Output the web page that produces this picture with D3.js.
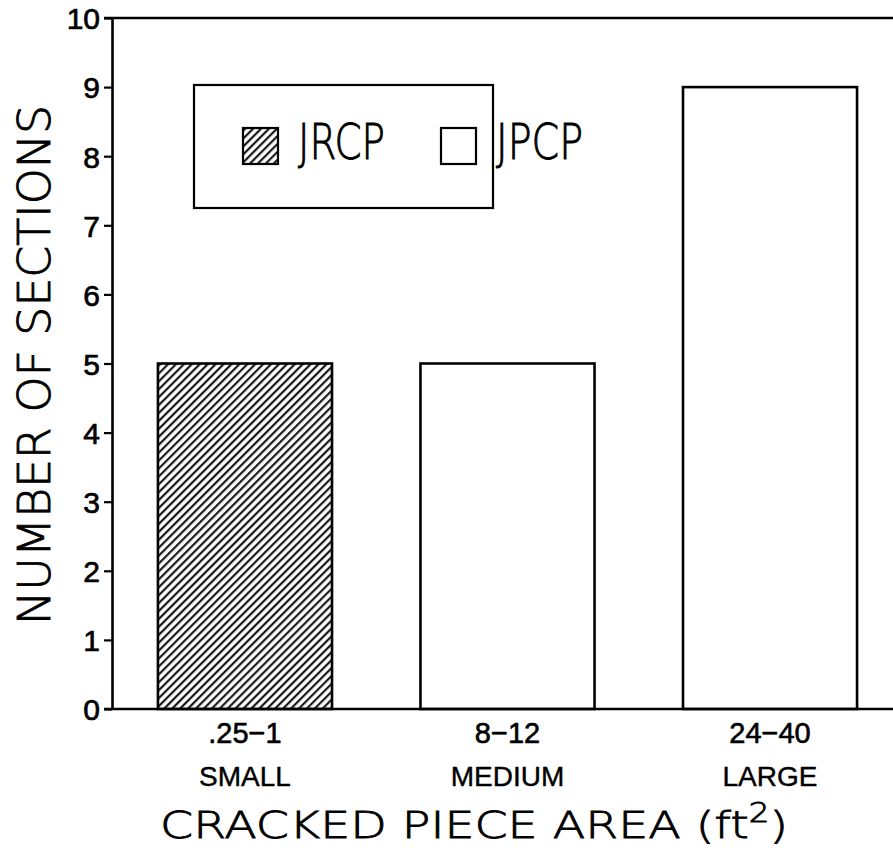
<!DOCTYPE html>
<html>
<head>
<meta charset="utf-8">
<script src="https://cdn.jsdelivr.net/npm/d3@7"></script>
<style>
  html, body { margin: 0; padding: 0; background: #fff; }
  svg { display: block; }
  text { font-family: "Liberation Sans", Arial, sans-serif; fill: #000; }
  .thin { font-family: "DejaVu Sans", sans-serif; font-weight: 200; }
</style>
</head>
<body>
<svg id="chart" width="893" height="863"></svg>
<script>
// Cracked piece area ranges and their size classes
const areaRanges = [".25\u22121", "8\u221212", "24\u221240"];
const sizeClasses = ["SMALL", "MEDIUM", "LARGE"];
// Number of sections in each class
const sectionCounts = [5, 5, 9];
// Pavement type of each bar
const pavementTypes = ["JRCP", "JPCP", "JPCP"];
// Legend entries
const legendTypes = ["JRCP", "JPCP"];
// Y-axis tick values
const yTickValues = [0, 1, 2, 3, 4, 5, 6, 7, 8, 9, 10];

const svg = d3.select("#chart");
const W = 893;

const x = d3.scaleBand()
  .domain(areaRanges)
  .range([112, 903])
  .paddingInner(0.337)
  .paddingOuter(0.175);

const y = d3.scaleLinear().domain([0, 10]).range([709, 18]);

// Diagonal hatch for JRCP
const defs = svg.append("defs");
defs.append("pattern")
  .attr("id", "hatch")
  .attr("patternUnits", "userSpaceOnUse")
  .attr("width", 5.6)
  .attr("height", 10)
  .attr("patternTransform", "rotate(45)")
  .append("line")
  .attr("x1", 1.2).attr("y1", -2)
  .attr("x2", 1.2).attr("y2", 12)
  .attr("stroke", "#000")
  .attr("stroke-width", 2);

const fillFor = t => t === "JRCP" ? "url(#hatch)" : "#fff";

// Bars
svg.append("g").selectAll("rect")
  .data(sectionCounts)
  .join("rect")
  .attr("x", (d, i) => x(areaRanges[i]))
  .attr("y", d => y(d))
  .attr("width", x.bandwidth())
  .attr("height", d => y(0) - y(d))
  .attr("fill", (d, i) => fillFor(pavementTypes[i]))
  .attr("stroke", "#000")
  .attr("stroke-width", 2.6);

// Frame lines at 0 and 10
svg.append("line")
  .attr("x1", 104).attr("x2", W)
  .attr("y1", y(10)).attr("y2", y(10))
  .attr("stroke", "#000").attr("stroke-width", 2.6);
svg.append("line")
  .attr("x1", 104).attr("x2", W)
  .attr("y1", y(0)).attr("y2", y(0))
  .attr("stroke", "#000").attr("stroke-width", 2.6);

// Y axis
const yAxis = svg.append("g")
  .attr("transform", "translate(112,0)")
  .call(d3.axisLeft(y).tickValues(yTickValues).tickSize(8).tickSizeOuter(0).tickPadding(4));
yAxis.attr("font-size", null).attr("font-family", null);
yAxis.select(".domain").attr("stroke", "#000").attr("stroke-width", 2.6);
yAxis.selectAll(".tick line").attr("stroke", "#000").attr("stroke-width", 2.2);
yAxis.selectAll(".tick text")
  .attr("font-size", 30)
  .attr("dy", "0.36em")
  .attr("stroke", "#000").attr("stroke-width", 0.7);

// X category labels (range and size class)
const xLabels = svg.append("g");
xLabels.selectAll("text.range")
  .data(areaRanges)
  .join("text")
  .attr("class", "range")
  .attr("x", d => x(d) + x.bandwidth() / 2)
  .attr("y", 743)
  .attr("text-anchor", "middle")
  .attr("font-size", 29)
  .attr("stroke", "#000").attr("stroke-width", 0.6)
  .text(d => d);
xLabels.selectAll("text.size")
  .data(sizeClasses)
  .join("text")
  .attr("class", "size")
  .attr("x", (d, i) => x(areaRanges[i]) + x.bandwidth() / 2)
  .attr("y", 786)
  .attr("text-anchor", "middle")
  .attr("font-size", 28)
  .attr("stroke", "#000").attr("stroke-width", 0.4)
  .text(d => d);

// X axis title
const xTitle = svg.append("text")
  .attr("class", "thin")
  .attr("x", 160)
  .attr("y", 838)
  .attr("font-size", 38)
  .attr("stroke", "#000").attr("stroke-width", 0.8)
  .attr("textLength", 628)
  .attr("lengthAdjust", "spacingAndGlyphs");
xTitle.append("tspan").text("CRACKED PIECE AREA (ft");
xTitle.append("tspan").attr("font-size", 26).attr("dy", -16).text("2");
xTitle.append("tspan").attr("dy", 16).text(")");

// Y axis title
svg.append("text")
  .attr("class", "thin")
  .attr("transform", "translate(50,365) rotate(-90)")
  .attr("text-anchor", "middle")
  .attr("font-size", 45)
  .attr("stroke", "#000").attr("stroke-width", 0.9)
  .attr("textLength", 520)
  .attr("lengthAdjust", "spacingAndGlyphs")
  .text("NUMBER OF SECTIONS");

// Legend
const legend = svg.append("g");
legend.append("rect")
  .attr("x", 194).attr("y", 85)
  .attr("width", 299).attr("height", 123)
  .attr("fill", "#fff")
  .attr("stroke", "#000").attr("stroke-width", 2.2);

const legendX = [243, 441];
legendTypes.forEach((t, i) => {
  legend.append("rect")
    .attr("x", legendX[i]).attr("y", 128)
    .attr("width", 35).attr("height", 36)
    .attr("fill", fillFor(t))
    .attr("stroke", "#000").attr("stroke-width", 2.2);
  legend.append("text")
    .attr("class", "thin")
    .attr("x", legendX[i] + 55)
    .attr("y", 159)
    .attr("font-size", 49)
    .attr("stroke", "#000").attr("stroke-width", 0.9)
    .attr("textLength", 87)
    .attr("lengthAdjust", "spacingAndGlyphs")
    .text(t);
});
</script>
</body>
</html>
